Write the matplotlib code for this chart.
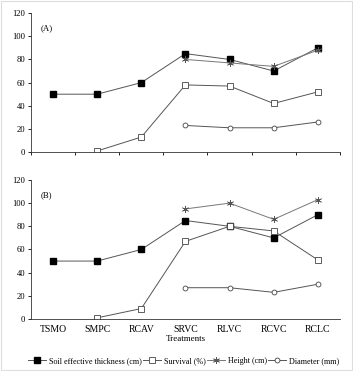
import matplotlib
matplotlib.use("Agg")
import matplotlib.pyplot as plt
import numpy as np
from matplotlib.patches import Rectangle

plt.rcParams["font.family"] = ["Liberation Serif", "DejaVu Serif"]

treatments = ["TSMO", "SMPC", "RCAV", "SRVC", "RLVC", "RCVC", "RCLC"]
nan = np.nan

soil_a = [50, 50, 60, 85, 80, 70, 90]
surv_a = [nan, 1, 13, 58, 57, 42, 52]
height_a = [nan, nan, nan, 80, 77, 74, 88]
diam_a = [nan, nan, nan, 23, 21, 21, 26]

soil_b = [50, 50, 60, 85, 80, 70, 90]
surv_b = [nan, 1, 9, 67, 80, 76, 51]
height_b = [nan, nan, nan, 95, 100, 86, 103]
diam_b = [nan, nan, nan, 27, 27, 23, 30]

labels = ["Soil effective thickness (cm)", "Survival (%)", "Height (cm)", "Diameter (mm)"]

fig = plt.figure(figsize=(3.53, 3.71), dpi=100)
fig.patches.append(Rectangle((0.003, 0.003), 0.994, 0.994, transform=fig.transFigure,
                             fill=False, edgecolor="#dddddd", linewidth=0.8))

ax_a = fig.add_axes([0.0878, 0.590, 0.875, 0.3747])
ax_b = fig.add_axes([0.0878, 0.1402, 0.875, 0.3747])


def draw(ax, soil, surv, height, diam, tag, show_x):
    x = np.arange(len(treatments))
    lc = "#555555"
    h1, = ax.plot(x, soil, color=lc, lw=0.7, marker="s", ms=4, mfc="black", mec="black")
    h2, = ax.plot(x, surv, color=lc, lw=0.7, marker="s", ms=4, mfc="white", mec="#444444", mew=0.6)
    h3, = ax.plot(x, height, color="#777777", lw=0.7, marker=(6, 2, 0), ms=5, mec="#555555", mew=0.5)
    h4, = ax.plot(x, diam, color=lc, lw=0.7, marker="o", ms=3.5, mfc="white", mec="#444444", mew=0.6)
    ax.set_xlim(-0.5, 6.5)
    ax.set_ylim(0, 120)
    ax.set_yticks(range(0, 121, 20))
    ax.tick_params(axis="y", labelsize=6.2, length=2.5, width=0.6, pad=1.5)
    for s in ["top", "right"]:
        ax.spines[s].set_visible(False)
    for s in ["left", "bottom"]:
        ax.spines[s].set_linewidth(0.6)
        ax.spines[s].set_color("#333333")
    ax.text(0.03, 0.92, tag, transform=ax.transAxes, fontsize=6.3, va="top", ha="left")
    if show_x:
        ax.set_xticks(x)
        ax.set_xticklabels(treatments, fontsize=7)
        ax.tick_params(axis="x", length=0, pad=4)
        ax.set_xlabel("Treatments", fontsize=6.5, labelpad=1)
    else:
        ax.set_xticks(np.arange(-0.5, 7, 1))
        ax.set_xticklabels([])
        ax.tick_params(axis="x", length=2.5, width=0.6)
    return [h1, h2, h3, h4]


draw(ax_a, soil_a, surv_a, height_a, diam_a, "(A)", False)
handles = draw(ax_b, soil_b, surv_b, height_b, diam_b, "(B)", True)

fig.legend(handles, labels, loc="center", bbox_to_anchor=(0.52, 0.027), ncol=4,
           frameon=False, fontsize=5.9, handlelength=2.2, handletextpad=0.3,
           columnspacing=0.2, borderaxespad=0)

fig.savefig("out.png", dpi=100)
